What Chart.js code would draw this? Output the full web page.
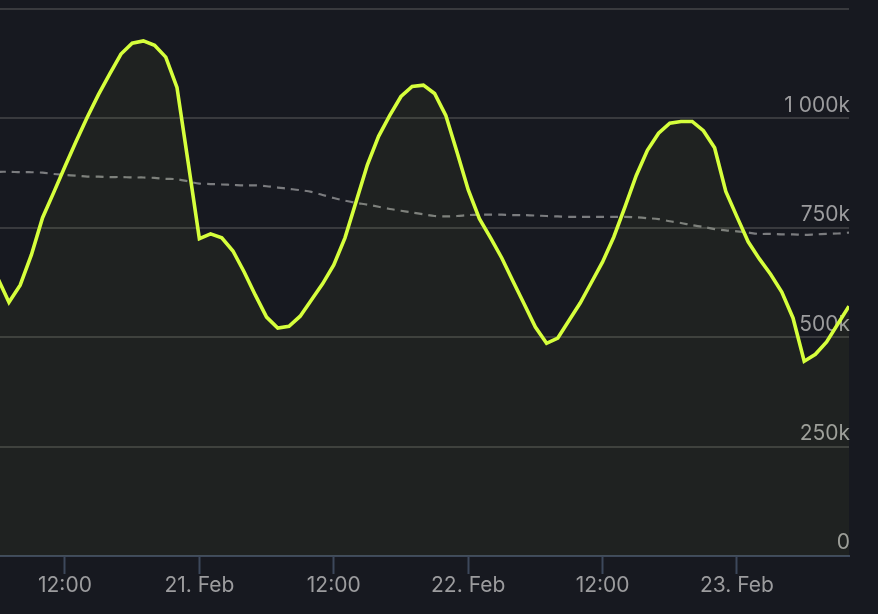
<!DOCTYPE html>
<html>
<head>
<meta charset="utf-8">
<script src="https://cdn.jsdelivr.net/npm/chart.js@4.4.1/dist/chart.umd.min.js"></script>
<style>
    html, body { margin: 0; padding: 0; background: #171920; }
    #wrap { width: 878px; height: 614px; }
</style>
</head>
<body>
<div id="wrap"><canvas id="grafico"></canvas></div>
<script>
// hours counted from 20 Feb 00:00
const hours = [6, 7, 8, 9, 10, 11, 12, 13, 14, 15, 16, 17, 18, 19, 20, 21, 22, 23, 24, 25,
    26, 27, 28, 29, 30, 31, 32, 33, 34, 35, 36, 37, 38, 39, 40, 41, 42, 43, 44, 45,
    46, 47, 48, 49, 50, 51, 52, 53, 54, 55, 56, 57, 58, 59, 60, 61, 62, 63, 64, 65,
    66, 67, 68, 69, 70, 71, 72, 73, 74, 75, 76, 77, 78, 79, 80, 81, 82, 83];

// values in thousands
const actual = [635, 580, 619, 688, 773, 831, 890, 948, 1003, 1055, 1102, 1147, 1172, 1177, 1167, 1140, 1071, 899, 725, 736,
    727, 697, 649, 596, 546, 521, 525, 548, 585, 622, 665, 727, 810, 894, 959, 1007, 1050, 1073, 1076, 1057,
    1007, 923, 837, 771, 727, 681, 628, 576, 523, 486, 498, 538, 578, 625, 672, 729, 798, 869, 927, 966,
    989, 993, 993, 972, 933, 833, 775, 718, 679, 644, 603, 544, 445, 461, 489, 530, 571, 612];

const average = [878, 878, 877, 877, 876, 873, 871, 869, 867, 867, 866, 866, 865, 865, 864, 862, 861, 856, 851, 850,
    849, 848, 847, 847, 845, 842, 839, 836, 832, 825, 818, 812, 807, 803, 798, 793, 789, 785, 781, 777,
    776, 777, 779, 780, 780, 780, 779, 779, 778, 777, 776, 775, 775, 775, 775, 775, 775, 774, 772, 770,
    765, 761, 756, 752, 747, 744, 742, 739, 736, 736, 735, 735, 734, 735, 736, 737, 739, 740];

const xTickHours = [12, 24, 36, 48, 60, 72];
const xTickLabels = ['12:00', '21. Feb', '12:00', '22. Feb', '12:00', '23. Feb'];
const yTickValues = [0, 250, 500, 750, 1000, 1250];
const yTickLabels = ['0', '250k', '500k', '750k', '1 000k', ''];

const fontFamily = 'Inter, "Noto Sans", sans-serif';

document.addEventListener('DOMContentLoaded', () => {
    const ctx = document.getElementById('grafico').getContext('2d');

    new Chart(ctx, {
        type: 'line',
        data: {
            datasets: [{
                label: 'Actual',
                data: hours.map((h, i) => ({ x: h, y: actual[i] })),
                borderColor: '#d6ff3c',
                borderWidth: 3.6,
                backgroundColor: 'rgba(212, 255, 58, 0.045)',
                fill: 'origin',
                pointRadius: 0,
                tension: 0
            }, {
                label: 'Average',
                data: hours.map((h, i) => ({ x: h, y: average[i] })),
                borderColor: '#7b7c7f',
                borderWidth: 2.2,
                borderDash: [8, 6],
                fill: false,
                pointRadius: 0,
                tension: 0.3
            }]
        },
        options: {
            responsive: true,
            maintainAspectRatio: false,
            animation: false,
            layout: { padding: { top: 9, right: 27, bottom: 17, left: 0 } },
            plugins: {
                legend: { display: false },
                tooltip: { enabled: false }
            },
            scales: {
                x: {
                    type: 'linear',
                    min: 6.2,
                    max: 82,
                    afterBuildTicks: axis => {
                        axis.ticks = xTickHours.map(v => ({ value: v }));
                    },
                    grid: {
                        drawOnChartArea: false,
                        drawTicks: true,
                        tickLength: 18,
                        tickWidth: 2,
                        tickColor: '#3d485b'
                    },
                    border: { color: '#3d485b', width: 2 },
                    ticks: {
                        color: '#9c9c9e',
                        font: { family: fontFamily, size: 21, lineHeight: 1 },
                        padding: 1,
                        maxRotation: 0,
                        autoSkip: false,
                        callback: (v, i) => xTickLabels[i]
                    }
                },
                y: {
                    position: 'right',
                    min: 0,
                    max: 1250,
                    afterBuildTicks: axis => {
                        axis.ticks = yTickValues.map(v => ({ value: v }));
                    },
                    // labels sit inside the plot, so they need no extra room
                    afterFit: axis => {
                        axis.paddingTop = 0;
                        axis.paddingBottom = 0;
                    },
                    grid: {
                        color: '#393a3e',
                        lineWidth: 2,
                        drawTicks: false
                    },
                    border: { display: false },
                    ticks: {
                        mirror: true,
                        padding: 1,
                        labelOffset: -13,
                        color: '#9c9c9e',
                        font: { family: fontFamily, size: 21 },
                        callback: (v, i) => yTickLabels[i]
                    }
                }
            }
        }
    });
});
</script>
</body>
</html>
